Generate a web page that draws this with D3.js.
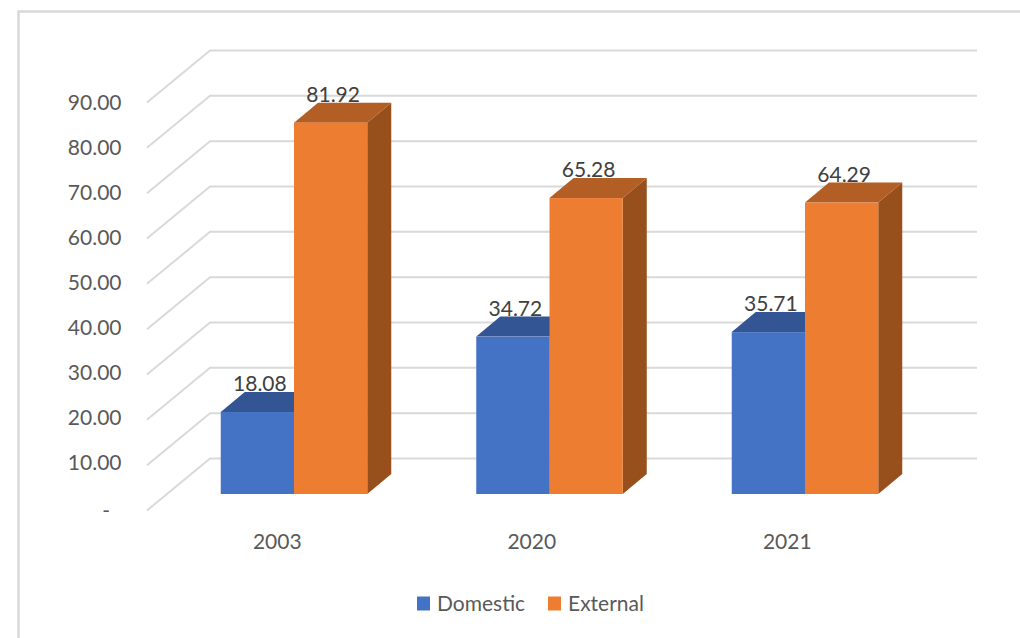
<!DOCTYPE html>
<html>
<head>
<meta charset="utf-8">
<script src="https://cdn.jsdelivr.net/npm/d3@7"></script>
<style>
html,body{margin:0;padding:0;background:#fff;overflow:hidden}
text{font-family:"Lato",sans-serif;fill:#595959}
</style>
</head>
<body>
<svg id="c" width="1020" height="638"></svg>
<script>
const categories = ["2003", "2020", "2021"];
const seriesNames = ["Domestic", "External"];
const domestic = [18.08, 34.72, 35.71];
const external = [81.92, 65.28, 64.29];
const valueLabels = [["18.08","34.72","35.71"],["81.92","65.28","64.29"]];
const yTicks = [0,10,20,30,40,50,60,70,80,90];
const colors = ["#4472c4","#ed7d31"];
const topColors = ["#335593","#b25e24"];
const sideColors = ["#2a4a80","#974f1c"];

const svg = d3.select("#c");
const y = d3.scaleLinear().domain([0,90]).range([458.5,50.5]);
const yLabel = d3.scaleLinear().domain([0,90]).range([515,110]);
const x = d3.scaleBand().domain(categories).range([166.5,933]);
const inner = d3.scaleBand().domain(seriesNames).range([-73.5,73]);
const wallDepth = {dx:63, dy:52};
const barFront = 35.5, barDx = 24, barDy = 20;
const gridColor = "#d9d9d9";

// frame
svg.append("path").attr("d","M18.5,638V11.5H1020").attr("fill","none").attr("stroke",gridColor).attr("stroke-width",2.5);

// gridlines
const g = svg.append("g").attr("fill","none").attr("stroke",gridColor).attr("stroke-width",2);
yTicks.forEach(t=>{
  const yy=y(t);
  g.append("path").attr("d",`M${210-wallDepth.dx},${yy+wallDepth.dy}L210,${yy}H977`);
});

// tick labels
svg.append("g").selectAll("text").data(yTicks).join("text")
  .attr("x",d=>d===0?110:121.5)
  .attr("y",d=>yLabel(d)+(d===0?3:0))
  .attr("text-anchor","end")
  .attr("font-size",21)
  .text(d=>d===0?"-":d3.format(".2f")(d));

// bars
const series=[domestic,external];
series.forEach((vals,si)=>{
  const name=seriesNames[si];
  const b=svg.append("g");
  categories.forEach((c,i)=>{
    const x0=x(c)+x.bandwidth()/2+inner(name);
    const x1=x0+inner.bandwidth();
    const yb=y(0)+barFront;
    const yt=y(vals[i])+barFront;
    b.append("path").attr("fill",sideColors[si])
      .attr("d",`M${x1},${yt}L${x1+barDx},${yt-barDy}V${yb-barDy}L${x1},${yb}Z`);
    b.append("path").attr("fill",topColors[si])
      .attr("d",`M${x0},${yt}L${x0+barDx},${yt-barDy}H${x1+barDx}L${x1},${yt}Z`);
    b.append("rect").attr("fill",colors[si]).attr("x",x0).attr("y",yt).attr("width",x1-x0).attr("height",yb-yt);
  });
});

// value labels
series.forEach((vals,si)=>{
  const name=seriesNames[si];
  categories.forEach((c,i)=>{
    svg.append("text")
      .attr("x",x(c)+x.bandwidth()/2+inner(name)+inner.bandwidth()/2+2.5)
      .attr("y",y(vals[i])+barFront-barDy-1)
      .attr("text-anchor","middle")
      .attr("font-size",21)
      .attr("style","fill:#404040")
      .text(valueLabels[si][i]);
  });
});

// category labels
svg.append("g").selectAll("text").data(categories).join("text")
  .attr("x",(d,i)=>x(d)+x.bandwidth()/2-17+(i===0?0:-1))
  .attr("y",549)
  .attr("text-anchor","middle")
  .attr("font-size",21)
  .text(d=>d);

// legend
const legendX=[417,548];
seriesNames.forEach((n,i)=>{
  svg.append("rect").attr("x",legendX[i]).attr("y",596.5).attr("width",13).attr("height",14).attr("fill",colors[i]);
  svg.append("text").attr("x",legendX[i]+20).attr("y",611).attr("font-size",21).text(n);
});
</script>
</body>
</html>
